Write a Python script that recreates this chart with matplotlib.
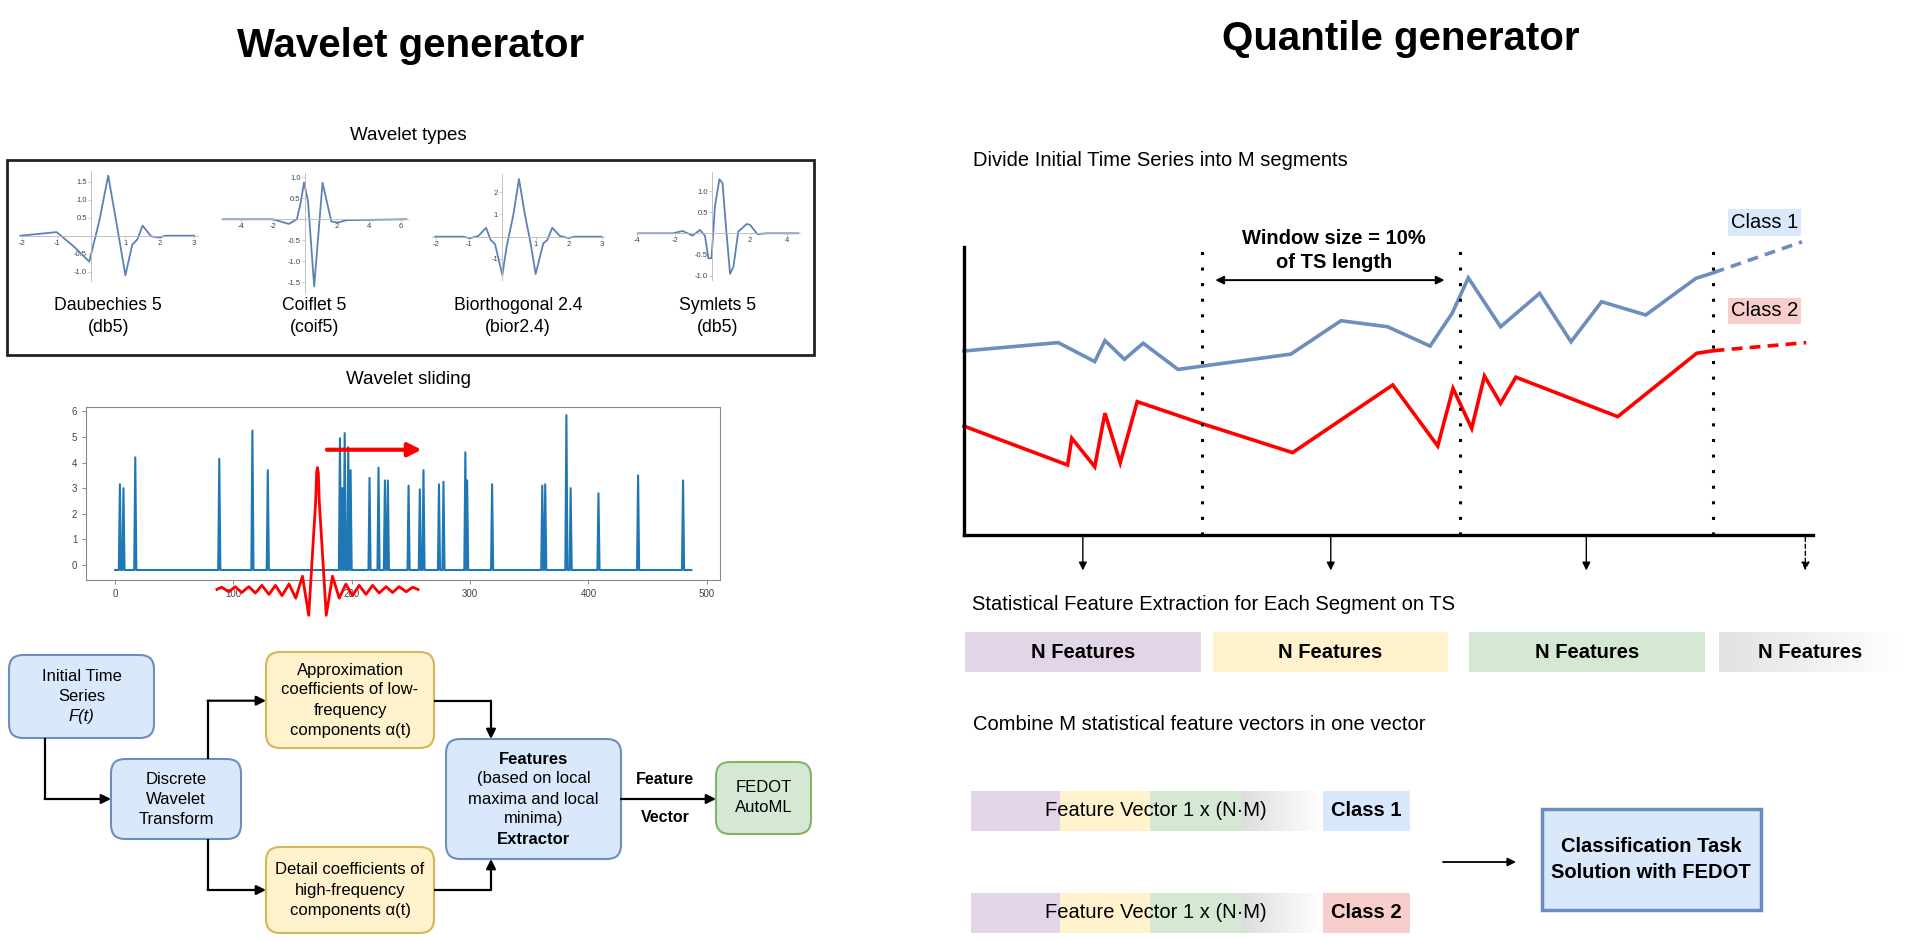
import matplotlib.pyplot as plt
import numpy as np
from matplotlib.patches import FancyBboxPatch, Rectangle
from matplotlib.colors import to_rgb

plt.rcParams['font.family'] = ['Liberation Sans', 'DejaVu Sans']

W, H = 1913, 941

# - - - - - - - - - - - - - - - - - - - - - - - - - - - - - - - - - - - - - -
# data
# - - - - - - - - - - - - - - - - - - - - - - - - - - - - - - - - - - - - - -
# wavelet shapes (x, psi) of the four small panels
db5_x = [-2.05, -1.0, -0.5, -0.05, 0.25, 0.5, 0.75, 1.0, 1.2, 1.35, 1.5, 1.75, 2.0, 2.15, 3.0]
db5_y = [0.0, 0.1, -0.3, -0.72, 0.45, 1.67, 0.3, -1.1, -0.25, -0.1, 0.28, -0.02, -0.05, 0.0, 0.0]
coif5_x = [-5.1, -2.0, -1.0, -0.5, -0.27, -0.05, 0.2, 0.58, 1.1, 1.65, 2.05, 2.6, 6.3]
coif5_y = [0.0, 0.0, -0.11, 0.0, 0.38, 0.88, 0.42, -1.6, 0.87, -0.05, -0.08, -0.02, 0.0]
bior_x = [-2.02, -1.17, -0.97, -0.72, -0.49, -0.35, -0.22, 0.0, 0.13, 0.33, 0.5, 0.68,
          0.85, 1.0, 1.23, 1.35, 1.5, 1.73, 1.98, 2.18, 2.98]
bior_y = [0.0, 0.0, -0.07, 0.03, 0.4, -0.15, -0.33, -1.73, -0.45, 0.98, 2.6, 0.98,
          -0.3, -1.68, -0.3, -0.15, 0.4, 0.03, -0.06, 0.0, 0.0]
sym5_x = [-3.96, -2.09, -1.59, -1.05, -0.66, -0.39, -0.21, -0.04, 0.14, 0.38, 0.55, 0.73,
          0.95, 1.13, 1.39, 1.84, 2.02, 2.41, 2.91, 4.6]
sym5_y = [0.0, 0.0, 0.055, -0.055, 0.08, -0.06, -0.59, -0.59, 0.63, 1.28, 1.18, 0.16,
          -0.96, -0.79, 0.04, 0.22, 0.2, -0.02, 0.0, 0.0]
wavelet_names = ["Daubechies 5\n(db5)", "Coiflet 5\n(coif5)", "Biorthogonal 2.4\n(bior2.4)", "Symlets 5\n(db5)"]

# wavelet sliding: spikes of the coefficient signal
spike_pos = [4, 7, 17, 88, 116, 129, 190, 192, 194, 197, 199, 215, 222.6, 228, 230.5, 248,
             257.5, 260.6, 273.7, 277.5, 296, 297.5, 318.6, 361, 363.5, 381.4, 385, 408.5, 442, 480]
spike_height = [3.15, 3.0, 4.2, 4.15, 5.25, 3.7, 4.95, 3.0, 5.15, 4.6, 3.7, 3.4, 3.8, 3.3, 3.3, 3.1,
                2.95, 3.7, 3.15, 3.25, 4.4, 3.3, 3.15, 3.1, 3.15, 5.85, 3.0, 2.8, 3.5, 3.3]
signal_base = -0.2
signal_end = 487
red_wave_x = [86, 90, 96, 101.5, 107, 113, 118.5, 124, 130, 135.5, 141, 147, 152.6, 158.3, 163.6,
              169.5, 170.3, 171, 171.7, 172.5, 178.4, 183.7, 189.4, 195, 200.6, 206.2, 212, 217.6,
              223.2, 229, 234.5, 240, 246, 251.5, 256]
red_wave_y = [-0.96, -0.87, -1.05, -0.85, -1.08, -0.85, -1.1, -0.8, -1.15, -0.8, -1.2, -0.75, -1.3,
              -0.44, -1.97, 2.5, 3.6, 3.8, 3.6, 2.5, -1.97, -0.44, -1.3, -0.75, -1.2, -0.8, -1.15,
              -0.8, -1.1, -0.85, -1.08, -0.85, -1.05, -0.87, -0.96]
slide_arrow_x = [179, 259]
slide_arrow_y = 4.5

# quantile generator: two classes on a 0..100 canvas
class1_x = [0, 11.1, 15.4, 16.6, 18.9, 21.1, 25.2, 38.5, 44.4, 49.9, 54.9, 57.5, 59.4, 63.2,
            67.8, 71.5, 75.1, 80.3, 86.2, 88.3]
class1_y = [63.9, 66.8, 60.2, 67.5, 61.0, 66.6, 57.5, 62.8, 74.4, 72.3, 65.6, 77.0, 89.3, 72.3,
            83.9, 67.1, 81.0, 76.4, 89.1, 91.1]
class2_x = [0, 12.2, 12.7, 15.4, 16.6, 18.4, 20.4, 27.9, 38.7, 50.5, 55.8, 57.6, 59.8, 61.3,
            63.2, 65.0, 77.0, 86.3, 88.3]
class2_y = [37.8, 24.3, 33.6, 23.7, 42.3, 25.1, 46.3, 38.8, 28.6, 52.1, 30.9, 50.9, 37.0, 55.2,
            45.7, 54.8, 41.1, 63.1, 64.0]
class1_tail = ([88.3, 98.7], [91.1, 101.8])
class2_tail = ([88.3, 99.2], [64.0, 66.8])
segment_edges = [0, 28.0, 58.4, 88.2]
last_segment_x = 99.1
class_labels = ["Class 1", "Class 2"]
feature_colors = ['#e1d5e7', '#fff2cc', '#d5e8d4', 'fade']

BLUE_F, BLUE_E = '#dae8fc', '#6c8ebf'
YEL_F, YEL_E = '#fff2cc', '#d6b656'
GRN_F, GRN_E = '#d5e8d4', '#82b366'
RED_F = '#f8cecc'


def axes_at(x0, y0, x1, y1):
    return fig.add_axes([x0 / W, 1 - y1 / H, (x1 - x0) / W, (y1 - y0) / H])


def fade_rect(x0, y0, x1, y1, c0='#e2e2e2'):
    ramp = np.linspace(0, 1, 128)
    rgb = np.array(to_rgb(c0))
    img = rgb[None, :] * (1 - ramp[:, None]) + ramp[:, None]
    canvas.imshow(img[None, :, :], extent=(x0, x1, y1, y0), aspect='auto', zorder=1)


def connector(pts):
    xs = [p[0] for p in pts]
    ys = [p[1] for p in pts]
    canvas.plot(xs[:-1], ys[:-1], color='k', lw=1.6, solid_capstyle='butt')
    canvas.annotate('', xy=pts[-1], xytext=pts[-2],
                    arrowprops=dict(arrowstyle='-|>', color='k', lw=1.6, mutation_scale=14,
                                    shrinkA=0, shrinkB=0))


def flow_box(x0, y0, x1, y1, fc, ec, lines):
    canvas.add_patch(FancyBboxPatch((x0, y0), x1 - x0, y1 - y0,
                                    boxstyle='round,pad=0,rounding_size=14',
                                    fc=fc, ec=ec, lw=1.5, zorder=2))
    cy = (y0 + y1) / 2
    n = len(lines)
    for i, (txt, weight, style) in enumerate(lines):
        canvas.text((x0 + x1) / 2, cy + (i - (n - 1) / 2) * 20, txt, fontsize=12,
                    fontweight=weight, fontstyle=style, ha='center', va='center', zorder=3)


fig = plt.figure(figsize=(W / 100, H / 100), dpi=100)
canvas = fig.add_axes([0, 0, 1, 1])
canvas.set_xlim(0, W)
canvas.set_ylim(H, 0)
canvas.set_autoscale_on(False)
canvas.axis('off')

# - - - - - - - - - - - - - - - - - - - - - - - - - - - - - - - - - - - - - -
# Wavelet generator
# - - - - - - - - - - - - - - - - - - - - - - - - - - - - - - - - - - - - - -
canvas.text(411, 46, "Wavelet generator", fontsize=29, fontweight='bold', ha='center', va='center')
canvas.text(408, 135, "Wavelet types", fontsize=13.5, ha='center', va='center')
canvas.add_patch(Rectangle((7, 160), 807, 195, fill=False, ec='#222222', lw=2))

panels = [
    (db5_x, db5_y, (18.8, 170.9, 197.6, 280.7), (-2.1, 3.1), (-1.25, 1.8),
     [-2, -1, 1, 2, 3], [-1.0, -0.5, 0.5, 1.0, 1.5], ['-1.0', '-0.5', '0.5', '1.0', '1.5']),
    (coif5_x, coif5_y, (221.4, 173.1, 407.6, 292.8), (-5.2, 6.4), (-1.75, 1.1),
     [-4, -2, 2, 4, 6], [-1.5, -1.0, -0.5, 0.5, 1.0], ['-1.5', '-1.0', '-0.5', '0.5', '1.0']),
    (bior_x, bior_y, (432.4, 174.5, 603.9, 280.0), (-2.1, 3.05), (-1.95, 2.8),
     [-2, -1, 1, 2, 3], [-1, 1, 2], ['-1', '1', '2']),
    (sym5_x, sym5_y, (635.6, 172.0, 800.2, 279.8), (-4.1, 4.7), (-1.1, 1.45),
     [-4, -2, 2, 4], [-1.0, -0.5, 0.5, 1.0], ['-1.0', '-0.5', '0.5', '1.0']),
]
for (xs, ys, box, xl, yl, xt, yt, ytl), name in zip(panels, wavelet_names):
    ax = axes_at(*box)
    ax.plot(xs, ys, color='#5e81b5', lw=1.3)
    ax.set_xlim(xl)
    ax.set_ylim(yl)
    ax.patch.set_alpha(0)
    for s in ['top', 'right']:
        ax.spines[s].set_visible(False)
    ax.spines['left'].set_position(('data', 0))
    ax.spines['bottom'].set_position(('data', 0))
    for s in ['left', 'bottom']:
        ax.spines[s].set_color('#b8b8b8')
        ax.spines[s].set_linewidth(0.6)
    ax.set_xticks(xt)
    ax.set_xticklabels([str(t) for t in xt])
    ax.set_yticks(yt)
    ax.set_yticklabels(ytl)
    ax.tick_params(labelsize=5.5, colors='#b8b8b8', labelcolor='#444444', length=2, width=0.5, pad=1)
    cx = (box[0] + box[2]) / 2
    l1, l2 = name.split('\n')
    canvas.text(cx, 305, l1, fontsize=12.7, ha='center', va='center')
    canvas.text(cx, 328, l2, fontsize=12.7, ha='center', va='center')

canvas.text(408, 380, "Wavelet sliding", fontsize=13.5, ha='center', va='center')

sig_x = [0]
sig_y = [signal_base]
for p, h in zip(spike_pos, spike_height):
    sig_x += [p - 0.9, p, p + 0.9]
    sig_y += [signal_base, h, signal_base]
sig_x.append(signal_end)
sig_y.append(signal_base)

sl = axes_at(86.3, 407, 720.2, 580)
sl.plot(sig_x, sig_y, color='#1f77b4', lw=1.5)
sl.set_xlim(-24.4, 511.4)
sl.set_ylim(-0.59, 6.17)
sl.set_xticks([0, 100, 200, 300, 400, 500])
sl.set_yticks([0, 1, 2, 3, 4, 5, 6])
sl.tick_params(labelsize=7, colors='#777777', labelcolor='#444444', length=3, width=0.6)
for s in sl.spines.values():
    s.set_color('#888888')
    s.set_linewidth(0.8)
sl.plot(red_wave_x, red_wave_y, color='#ff0000', lw=2.0, clip_on=False, zorder=5)
sl.annotate('', xy=(slide_arrow_x[1], slide_arrow_y), xytext=(slide_arrow_x[0], slide_arrow_y),
            arrowprops=dict(arrowstyle='-|>', color='#ff0000', lw=3, mutation_scale=20,
                            shrinkA=0, shrinkB=0))

# flow chart
flow_box(9, 655, 154, 738, BLUE_F, BLUE_E,
         [("Initial Time", 'normal', 'normal'), ("Series", 'normal', 'normal'), ("F(t)", 'normal', 'italic')])
flow_box(111, 759, 241, 839, BLUE_F, BLUE_E,
         [("Discrete", 'normal', 'normal'), ("Wavelet", 'normal', 'normal'), ("Transform", 'normal', 'normal')])
flow_box(266, 652, 434, 748, YEL_F, YEL_E,
         [("Approximation", 'normal', 'normal'), ("coefficients of low-", 'normal', 'normal'),
          ("frequency", 'normal', 'normal'), ("components α(t)", 'normal', 'normal')])
flow_box(266, 847, 434, 933, YEL_F, YEL_E,
         [("Detail coefficients of", 'normal', 'normal'), ("high-frequency", 'normal', 'normal'),
          ("components α(t)", 'normal', 'normal')])
flow_box(446, 739, 621, 859, BLUE_F, BLUE_E,
         [("Features", 'bold', 'normal'), ("(based on local", 'normal', 'normal'),
          ("maxima and local", 'normal', 'normal'), ("minima)", 'normal', 'normal'),
          ("Extractor", 'bold', 'normal')])
flow_box(716, 762, 811, 834, GRN_F, GRN_E,
         [("FEDOT", 'normal', 'normal'), ("AutoML", 'normal', 'normal')])

connector([(44.6, 738), (44.6, 799), (111, 799)])
connector([(207.6, 759), (207.6, 700.7), (266, 700.7)])
connector([(207.6, 839), (207.6, 890), (266, 890)])
connector([(434, 700.7), (491, 700.7), (491, 739)])
connector([(434, 890), (491, 890), (491, 859)])
connector([(621, 799), (716, 799)])
canvas.text(665, 779, "Feature", fontsize=11.5, fontweight='bold', ha='center', va='center')
canvas.text(665, 817, "Vector", fontsize=11.5, fontweight='bold', ha='center', va='center')

# - - - - - - - - - - - - - - - - - - - - - - - - - - - - - - - - - - - - - -
# Quantile generator
# - - - - - - - - - - - - - - - - - - - - - - - - - - - - - - - - - - - - - -
canvas.text(1401, 39, "Quantile generator", fontsize=29, fontweight='bold', ha='center', va='center')
canvas.text(973, 160, "Divide Initial Time Series into M segments", fontsize=14.5, ha='left', va='center')

qa = axes_at(964, 247, 1813, 535)
qa.set_xlim(0, 100)
qa.set_ylim(0, 100)
qa.patch.set_alpha(0)
qa.set_xticks([])
qa.set_yticks([])
for s in ['top', 'right']:
    qa.spines[s].set_visible(False)
for s in ['left', 'bottom']:
    qa.spines[s].set_linewidth(2.4)
    qa.spines[s].set_color('k')
qa.plot(class1_x, class1_y, color=BLUE_E, lw=2.6, clip_on=False, solid_joinstyle='miter')
qa.plot(class2_x, class2_y, color='#ff0000', lw=2.6, clip_on=False, solid_joinstyle='miter')
qa.plot(*class1_tail, color=BLUE_E, lw=2.6, ls=(0, (3, 2)), clip_on=False)
qa.plot(*class2_tail, color='#ff0000', lw=2.6, ls=(0, (3, 2)), clip_on=False)
for xe in segment_edges[1:]:
    qa.plot([xe, xe], [0, 99], color='k', lw=2.2, ls=(0, (1, 4.1)), clip_on=False)
qa.annotate('', xy=(56.6, 88.5), xytext=(29.6, 88.5),
            arrowprops=dict(arrowstyle='<|-|>', color='k', lw=1.4, mutation_scale=12,
                            shrinkA=0, shrinkB=0))
mids = [(a + b) / 2 for a, b in zip(segment_edges[:-1], segment_edges[1:])]
for i, xm in enumerate(mids + [last_segment_x]):
    qa.annotate('', xy=(xm, -12.3), xytext=(xm, -0.8), annotation_clip=False,
                arrowprops=dict(arrowstyle='-|>', color='k', lw=1.0, mutation_scale=12,
                                ls='-' if i < len(mids) else (0, (3, 2)), shrinkA=0, shrinkB=0))

canvas.text(1334, 238, "Window size = 10%", fontsize=14.5, fontweight='bold', ha='center', va='center')
canvas.text(1334, 263, "of TS length", fontsize=14.5, fontweight='bold', ha='center', va='center')
for (y0, y1), fc, lab in zip([(209, 236), (298, 324)], [BLUE_F, RED_F], class_labels):
    canvas.add_patch(Rectangle((1728, y0), 73, y1 - y0, fc=fc, ec='none'))
    canvas.text(1764.5, (y0 + y1) / 2, lab, fontsize=14.5, ha='center', va='center')

canvas.text(972, 605, "Statistical Feature Extraction for Each Segment on TS", fontsize=14.5,
            ha='left', va='center')
for (x0, x1), fc in zip([(965, 1201), (1213, 1448), (1469, 1705), (1719, 1902)], feature_colors):
    if fc == 'fade':
        fade_rect(x0, 632, x1, 672)
    else:
        canvas.add_patch(Rectangle((x0, 632), x1 - x0, 40, fc=fc, ec='none'))
    canvas.text((x0 + x1) / 2, 652, "N Features", fontsize=14.5, fontweight='bold',
                ha='center', va='center', zorder=3)

canvas.text(973, 725, "Combine M statistical feature vectors in one vector", fontsize=14.5,
            ha='left', va='center')
for (y0, y1), fc, lab in zip([(791, 831), (893, 933)], [BLUE_F, RED_F], class_labels):
    for (x0, x1), c in zip([(971, 1060), (1060, 1150), (1150, 1241)], feature_colors[:3]):
        canvas.add_patch(Rectangle((x0, y0), x1 - x0, y1 - y0, fc=c, ec='none'))
    fade_rect(1241, y0, 1323, y1, c0='#dddddd')
    canvas.add_patch(Rectangle((1323, y0), 87, y1 - y0, fc=fc, ec='none'))
    canvas.text(1156, (y0 + y1) / 2, "Feature Vector 1 x (N·M)", fontsize=14.5,
                ha='center', va='center', zorder=3)
    canvas.text(1366, (y0 + y1) / 2, lab, fontsize=14.5, fontweight='bold',
                ha='center', va='center', zorder=3)

canvas.annotate('', xy=(1516, 862), xytext=(1443, 862),
                arrowprops=dict(arrowstyle='-|>', color='k', lw=1.3, mutation_scale=12,
                                shrinkA=0, shrinkB=0))
canvas.add_patch(Rectangle((1542, 809), 219, 101, fc=BLUE_F, ec=BLUE_E, lw=2.5))
canvas.text(1651, 846, "Classification Task", fontsize=14.5, fontweight='bold', ha='center', va='center')
canvas.text(1651, 872, "Solution with FEDOT", fontsize=14.5, fontweight='bold', ha='center', va='center')

fig.savefig('out.png', dpi=100)
